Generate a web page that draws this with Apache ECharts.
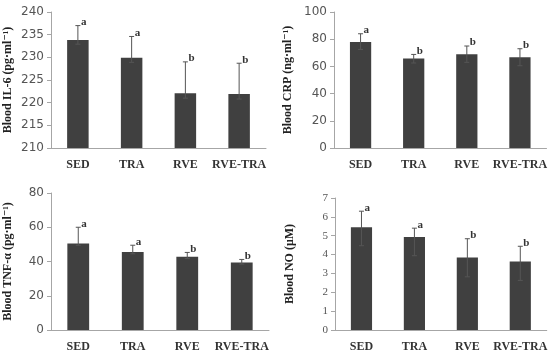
<!DOCTYPE html>
<html>
<head>
<meta charset="utf-8">
<title>blood markers</title>
<script src="https://cdn.jsdelivr.net/npm/echarts@6/dist/echarts.min.js"></script>
<style>
  body { margin: 0; padding: 0; background: #fff; }
  #chart { width: 550px; height: 353px; }
</style>
</head>
<body>
<div id="chart"></div>
<script>
// groups
var groups = ['SED', 'TRA', 'RVE', 'RVE-TRA'];

// IL-6 (pg/ml)
var il6Mean = [233.8, 229.9, 222.1, 221.9];
var il6Hi   = [237.0, 234.6, 229.0, 228.7];
var il6Lo   = [232.9, 228.9, 221.0, 220.8];
var il6Sig  = ['a', 'a', 'b', 'b'];

// CRP (ng/ml)
var crpMean = [78.0, 65.9, 69.0, 66.8];
var crpHi   = [84.0, 68.8, 75.0, 73.0];
var crpLo   = [72.5, 62.5, 63.0, 60.5];
var crpSig  = ['a', 'b', 'b', 'b'];

// TNF-a (pg/ml)
var tnfMean = [50.5, 45.6, 42.8, 39.4];
var tnfHi   = [60.0, 49.5, 45.3, 41.2];
var tnfLo   = [49.5, 44.5, 41.7, 38.5];
var tnfSig  = ['a', 'a', 'b', 'b'];

// NO (uM)
var noMean = [5.45, 4.93, 3.84, 3.63];
var noHi   = [6.30, 5.40, 4.84, 4.44];
var noLo   = [4.47, 3.94, 2.82, 2.63];
var noSig  = ['a', 'a', 'b', 'b'];

var serif = '"Liberation Serif", "DejaVu Serif", serif';
var sans = '"DejaVu Sans", "Noto Sans", sans-serif';

var grids = [
    { left: 51,  top: 12,  width: 215, height: 136 },
    { left: 334, top: 12,  width: 213, height: 136 },
    { left: 51,  top: 193, width: 218, height: 138 },
    { left: 335, top: 198, width: 215, height: 135 }
];

var panels = [
    { name: 'Blood IL-6 (pg\u00b7ml\u207b\u00b9)', min: 210, max: 240, step: 5, mean: il6Mean, hi: il6Hi, lo: il6Lo, sig: il6Sig, font: sans, fs: 12, gap: 37 },
    { name: 'Blood CRP (ng\u00b7ml\u207b\u00b9)', min: 0, max: 100, step: 20, mean: crpMean, hi: crpHi, lo: crpLo, sig: crpSig, font: sans, fs: 12, gap: 40 },
    { name: 'Blood TNF-\u03b1 (pg\u00b7ml\u207b\u00b9)', min: 0, max: 80, step: 20, mean: tnfMean, hi: tnfHi, lo: tnfLo, sig: tnfSig, font: sans, fs: 12, gap: 37 },
    { name: 'Blood NO (\u03bcM)', min: 0, max: 7, step: 1, mean: noMean, hi: noHi, lo: noLo, sig: noSig, font: serif, fs: 11, gap: 39 }
];

function errorBar(sig) {
    return function (params, api) {
        var i = api.value(0);
        var top = api.coord([i, api.value(2)]);
        var bot = api.coord([i, api.value(1)]);
        var x = top[0];
        var cw = 2.5;
        var st = { stroke: '#555', lineWidth: 1 };
        return {
            type: 'group',
            children: [
                { type: 'line', shape: { x1: x, y1: top[1], x2: x, y2: bot[1] }, style: st },
                { type: 'line', shape: { x1: x - cw, y1: top[1], x2: x + cw, y2: top[1] }, style: st },
                { type: 'line', shape: { x1: x - cw, y1: bot[1], x2: x + cw, y2: bot[1] }, style: st },
                { type: 'text', x: x + 3, y: top[1] + 2, style: {
                    text: sig[params.dataIndex], font: 'bold 11px ' + serif,
                    fill: '#333', textAlign: 'left', textVerticalAlign: 'bottom' } }
            ]
        };
    };
}

var xAxes = [], yAxes = [], series = [];
panels.forEach(function (p, k) {
    xAxes.push({
        type: 'category', gridIndex: k, data: groups,
        axisLine: { lineStyle: { color: '#a6a6a6' } },
        axisTick: { length: 4, lineStyle: { color: '#a6a6a6' } },
        axisLabel: { interval: 0, color: '#333', fontFamily: serif, fontWeight: 'bold', fontSize: 12, margin: 11 }
    });
    yAxes.push({
        type: 'value', gridIndex: k, min: p.min, max: p.max, interval: p.step,
        name: p.name, nameLocation: 'middle', nameRotate: 90, nameGap: p.gap,
        nameTextStyle: { color: '#222', fontFamily: serif, fontWeight: 'bold', fontSize: 12 },
        axisLine: { show: true, lineStyle: { color: '#a6a6a6' } },
        axisTick: { show: true, length: 4, lineStyle: { color: '#a6a6a6' } },
        splitLine: { show: false },
        axisLabel: { color: '#555', fontFamily: p.font, fontSize: p.fs, margin: 7 }
    });
    series.push({
        type: 'bar', xAxisIndex: k, yAxisIndex: k, data: p.mean,
        barWidth: '40%',
        itemStyle: { color: '#404040' },
        silent: true
    });
    series.push({
        type: 'custom', xAxisIndex: k, yAxisIndex: k,
        renderItem: errorBar(p.sig),
        data: groups.map(function (g, i) { return [i, p.lo[i], p.hi[i]]; }),
        z: 5
    });
});

var chart = echarts.init(document.getElementById('chart'));
chart.setOption({
    animation: false,
    grid: grids,
    xAxis: xAxes,
    yAxis: yAxes,
    series: series
});
</script>
</body>
</html>
